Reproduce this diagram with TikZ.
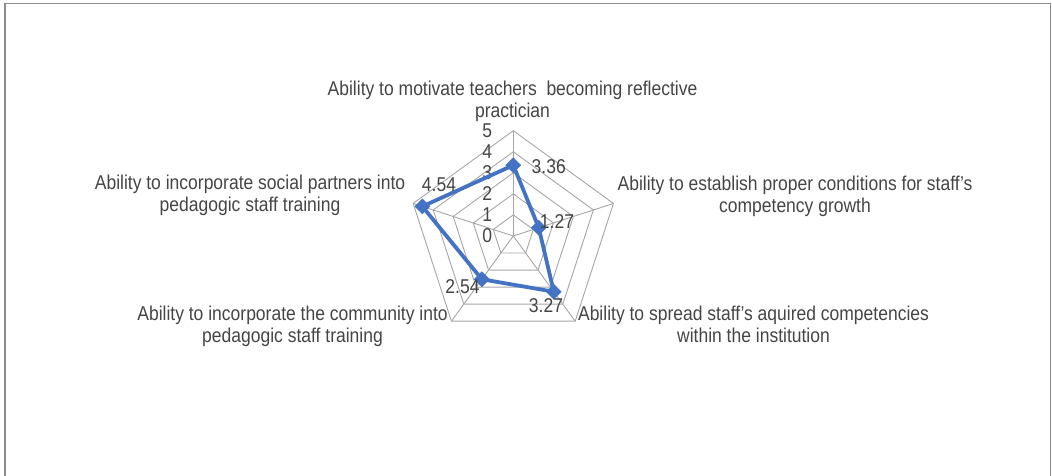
\documentclass[tikz,border=0pt]{standalone}
\usepackage{fontspec}
\setmainfont{Liberation Sans}[FakeStretch=0.875]
\usetikzlibrary{shapes.geometric}
\definecolor{serie}{HTML}{4472C4}
\definecolor{gridgray}{HTML}{A6A6A6}
\definecolor{txtgray}{HTML}{454545}
\newcommand{\unitr}{21.06}

\begin{document}
\begin{tikzpicture}[x=1bp,y=1bp,
    gridline/.style={draw=gridgray, line width=0.9bp},
    lbl/.style={text=txtgray, align=center, inner sep=0pt, anchor=base, font=\fontsize{20bp}{22bp}\selectfont},
    num/.style={text=txtgray, inner sep=0pt, font=\fontsize{20bp}{22bp}\selectfont},
    dmd/.style={diamond, fill=serie, inner sep=0pt, minimum size=16bp},
    serieline/.style={draw=serie, line width=3.8bp, line join=round}]

    \useasboundingbox (0,0) rectangle (1052,476);
    %Frame
    \draw[draw=gray!90, line width=1.5bp] (5,-5) -- (5,472.3) -- (1050.5,472.3) -- (1050.5,-5);

    \begin{scope}[shift={(513.3,240)}]
        %Grid
        \foreach \r in {1,...,5}
            \draw[gridline] (90:{\r*\unitr}) -- (18:{\r*\unitr}) -- (-54:{\r*\unitr}) -- (-126:{\r*\unitr}) -- (162:{\r*\unitr}) -- cycle;
        \foreach \a in {90,18,-54,-126,162}
            \draw[gridline] (0,0) -- (\a:{5*\unitr});

        %Axis values
        \foreach \r in {0,...,5}
            \node[num] (v\r) at (-26,{\r*\unitr}) {\r};

        %Data
        \coordinate (d1) at (90:{3.36*\unitr});
        \coordinate (d2) at (18:{1.27*\unitr});
        \coordinate (d3) at (-54:{3.27*\unitr});
        \coordinate (d4) at (-126:{2.54*\unitr});
        \coordinate (d5) at (162:{4.54*\unitr});

        %Lines
        \draw[serieline] (d1) -- (d2) -- (d3) -- (d4) -- (d5) -- cycle;

        %Markers
        \foreach \i in {1,...,5}
            \node[dmd] (m\i) at (d\i) {};

        %Values
        \node[num] (n1) at (35.4,69.5) {3.36};
        \node[num] (n2) at (43.7,14.5) {1.27};
        \node[num] (n3) at (32.7,-70) {3.27};
        \node[num] (n4) at (-50.8,-50.5) {2.54};
        \node[num] (n5) at (-74.3,51) {4.54};
    \end{scope}

    %Categories
    \node[lbl] (top) at (512.5,358) {Ability to motivate teachers \ becoming reflective\\practician};
    \node[lbl] (ur) at (795,263) {Ability to establish proper conditions for staff's\\competency growth};
    \node[lbl] (lr) at (753.5,133.5) {Ability to spread staff's aquired competencies\\within the institution};
    \node[lbl] (ll) at (292.5,133.5) {Ability to incorporate the community into\\pedagogic staff training};
    \node[lbl] (ul) at (250,264) {Ability to incorporate social partners into\\pedagogic staff training};
\end{tikzpicture}
\end{document}
